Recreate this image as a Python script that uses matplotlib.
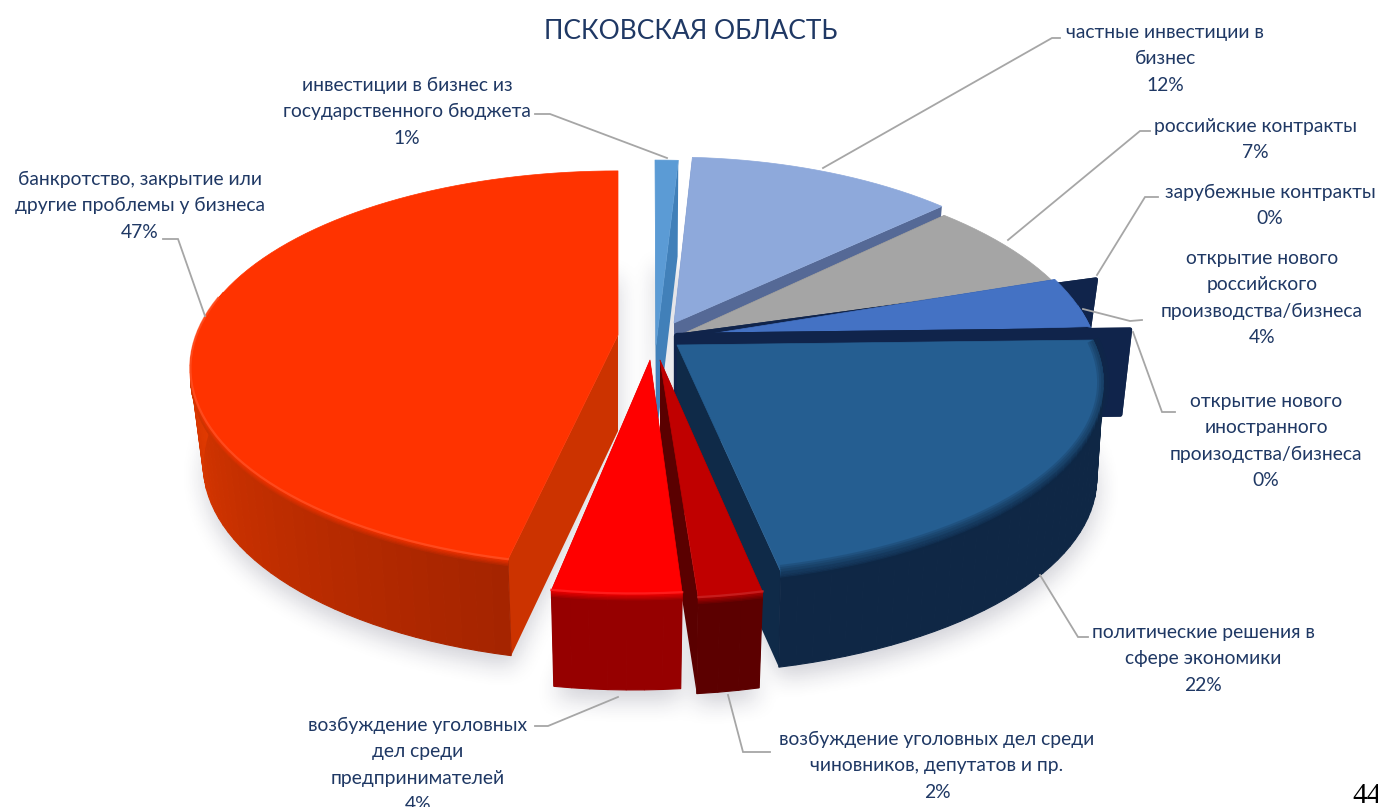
import numpy as np
import matplotlib
matplotlib.use('Agg')
import matplotlib.pyplot as plt
from matplotlib.path import Path

values = [1, 12, 7, 0, 4, 0, 22, 2, 4, 47]
names = [
    'инвестиции в бизнес из\nгосударственного бюджета',
    'частные инвестиции в\nбизнес',
    'российские контракты',
    'зарубежные контракты',
    'открытие нового\nроссийского\nпроизводства/бизнеса',
    'открытие нового\nиностранного\nпроизодства/бизнеса',
    'политические решения в\nсфере экономики',
    'возбуждение уголовных дел среди\nчиновников, депутатов и пр.',
    'возбуждение уголовных\nдел среди\nпредпринимателей',
    'банкротство, закрытие или\nдругие проблемы у бизнеса',
]
title = 'ПСКОВСКАЯ ОБЛАСТЬ'

# pie shape in pixels
A, B, K = 430, 200, 0.17

# per slice: rim centre, apex, x/y scale, wall height, wall narrowing, start angle trim
centers = [(655, 331), (670, 328), (661, 337), (705, 336), (664, 336),
           (704, 339), (667, 349), (649, 358), (633, 353), (618, 335)]
apexes = [(656, 345), (674, 323), (678, 336), (676, 336), (678, 339),
          (677, 335), (677, 345), (660, 360), (650, 360), (618, 335)]
scales = [(1, 1), (0.96, 1), (1, 1), (1, 1), (1, 1),
          (1, 1), (1, 0.95), (1, 1), (1, 1), (0.98, 0.96)]
depths = [96, 96, 96, 84, 96, 85, 96, 96, 96, 96]
narrow = [0.97, 0.97, 0.97, 0.97, 0.97, 0.977, 0.985, 0.97, 0.97, 0.97]
start_trim = [0, 0, 0, 0, 0, 0, 0, 0, 0, 3.5]
top_colors = ['#5b9bd5', '#8ea9db', '#a5a5a5', '#10244b', '#4472c4',
              '#10244b', '#255e91', '#c00000', '#ff0000', '#ff3300']
side_colors = ['#4180b9', '#556996', '#5a554b', '#10244b', '#10244b',
               '#10244b', '#0f2a48', '#5a0000', '#5a0000', '#cc3300']
front_from = ['#4180b9', '#556996', '#5a554b', '#10244b', '#10244b',
              '#10244b', '#0e2340', '#5c0000', '#960000', '#a52400']
front_to = ['#4180b9', '#556996', '#5a554b', '#10244b', '#10244b',
            '#10244b', '#0f2a4a', '#5c0000', '#960000', '#e23a00']

label_x = [407, 1165, 1255, 1270, 1262, 1266, 1203, 937, 418, 140]
label_y = [91, 38, 132, 198, 264, 407, 638, 745, 731, 185]
LINE = 26.4

leaders = [
    [(667, 158), (550, 114), (535, 114)],
    [(823, 168), (1052, 38), (1060, 38)],
    [(1008, 240), (1140, 131), (1150, 131)],
    [(1097, 275), (1145, 197), (1158, 197)],
    [(1083, 309), (1130, 321), (1142, 320)],
    [(1133, 332), (1162, 412), (1175, 412)],
    [(1040, 575), (1078, 637), (1088, 637)],
    [(728, 695), (743, 752), (770, 752)],
    [(618, 697), (548, 726), (535, 726)],
    [(205, 316), (178, 239), (163, 239)],
]

plt.rcParams['font.family'] = ['Lato', 'Open Sans', 'DejaVu Sans']
TEXT = '#1f3864'

fig = plt.figure(figsize=(13.78, 8.07), dpi=100)
ax = fig.add_axes([0, 0, 1, 1])
ax.axis('off')

# slice angles, clockwise from the top
edges = np.cumsum([0] + values) * 360 / sum(values)


def project(theta, center, scale):
    t = np.radians(theta)
    u, v = np.sin(t), -np.cos(t)
    f = 1 / (1 - K * v)
    return center[0] + A * u * f * scale[0], center[1] + B * v * f * scale[1]


def bottom(x, y, i):
    return centers[i][0] + (x - centers[i][0]) * narrow[i], y + depths[i]


def mix(c1, c2, t):
    c1, c2 = np.array(matplotlib.colors.to_rgb(c1)), np.array(matplotlib.colors.to_rgb(c2))
    return tuple(c1 + (c2 - c1) * t)


# soft shadow under the pie
gx, gy = np.meshgrid(np.arange(0, 1378, 2), np.arange(0, 807, 2))
pts = np.column_stack([gx.ravel(), gy.ravel()])
mask = np.zeros(gx.shape)
for i in range(len(values)):
    if values[i] == 0:
        continue
    th = np.linspace(edges[i] + start_trim[i], edges[i + 1], 60)
    x, y = project(th, centers[i], scales[i])
    x, y = bottom(x, y, i)
    poly = [(apexes[i][0], apexes[i][1] + depths[i])] + list(zip(x, y + 11))
    mask[Path(poly).contains_points(pts).reshape(gx.shape)] = 1
kernel = np.ones(13) / 13
for _ in range(2):
    mask = np.apply_along_axis(lambda r: np.convolve(r, kernel, mode='same'), 0, mask)
    mask = np.apply_along_axis(lambda r: np.convolve(r, kernel, mode='same'), 1, mask)
shadow = np.zeros(mask.shape + (4,))
shadow[..., 0], shadow[..., 1], shadow[..., 2] = 0.1, 0.1, 0.22
shadow[..., 3] = mask * 0.2
ax.imshow(shadow, extent=(0, 1378, 807, 0), aspect='auto', zorder=1)

z = 2
for i in range(len(values)):
    c, a, s, d = centers[i], apexes[i], scales[i], depths[i]
    start, end = edges[i] + start_trim[i], edges[i + 1]
    n = max(int((end - start) / 2), 2)
    th = np.linspace(start, end, n + 1)
    x, y = project(th, c, s)
    bx, by = bottom(x, y, i)
    ab = (a[0], a[1] + d)

    # radial walls
    for j in [0, -1]:
        quad = [a, (x[j], y[j]), (bx[j], by[j]), ab]
        ax.fill(*zip(*quad), color=side_colors[i], lw=3 if values[i] == 0 else 0,
                joinstyle='round', zorder=z)
    z += 1

    # outer wall, shaded along the rim, with a soft edge at the top
    if values[i] > 0:
        for k in range(n):
            if th[k] < 80 or th[k] > 282:
                continue
            t = min((th[k] - start) / max(270 - start, 1), 1) if start > 180 else 0.5
            col = mix(front_from[i], front_to[i], t)
            quad = [(x[k], y[k]), (x[k + 1], y[k + 1]), (bx[k + 1], by[k + 1]), (bx[k], by[k])]
            ax.fill(*zip(*quad), color=col, lw=0.8, zorder=z)
        z += 1
        for k in range(n):
            if th[k] < 80 or th[k] > 282:
                continue
            t = min((th[k] - start) / max(270 - start, 1), 1) if start > 180 else 0.5
            col = mix(front_from[i], front_to[i], t)
            for m in range(6):
                strip = [(x[k], y[k] + m * 1.4), (x[k + 1], y[k + 1] + m * 1.4),
                         (x[k + 1], y[k + 1] + (m + 1) * 1.4), (x[k], y[k] + (m + 1) * 1.4)]
                ax.fill(*zip(*strip), color=mix(top_colors[i], col, (m + 1) / 6), lw=0.6, zorder=z)
        z += 1

    # top face
    ax.fill(*zip(*([a] + list(zip(x, y)))), color=top_colors[i], lw=0.5,
            joinstyle='round', zorder=z)
    z += 1

    # bevel: bright line on the red slices, dark blurred rim on the big blue one
    front = (th >= 80) & (th <= 282)
    if i in (7, 8, 9):
        ax.plot(x[front], y[front] - 0.5, color=mix(top_colors[i], 'white', 0.14), lw=1.6,
                alpha=0.8, zorder=z)
        z += 1
    if i == 6:
        for w in [9, 6, 3]:
            ax.plot(x, y, color='#0f2a48', lw=w, alpha=0.22, solid_capstyle='butt', zorder=z)
        z += 1

for pts_line in leaders:
    ax.plot(*zip(*pts_line), color='#a6a6a6', lw=1.3, solid_joinstyle='miter', zorder=z)

# labels
for i in range(len(values)):
    lines = names[i].split('\n') + ['%d%%' % values[i]]
    for n, line in enumerate(lines):
        ax.text(label_x[i], label_y[i] + n * LINE, line, ha='center', va='baseline',
                fontsize=13.9, color=TEXT, zorder=z + 1)

ax.text(691, 39, title, ha='center', va='baseline', fontsize=19, color=TEXT)
ax.text(1352, 803, '44', ha='left', va='baseline', fontsize=21,
        family='Liberation Serif', color='black')

ax.set_xlim(0, 1378)
ax.set_ylim(807, 0)
fig.savefig('out.png', dpi=100)
